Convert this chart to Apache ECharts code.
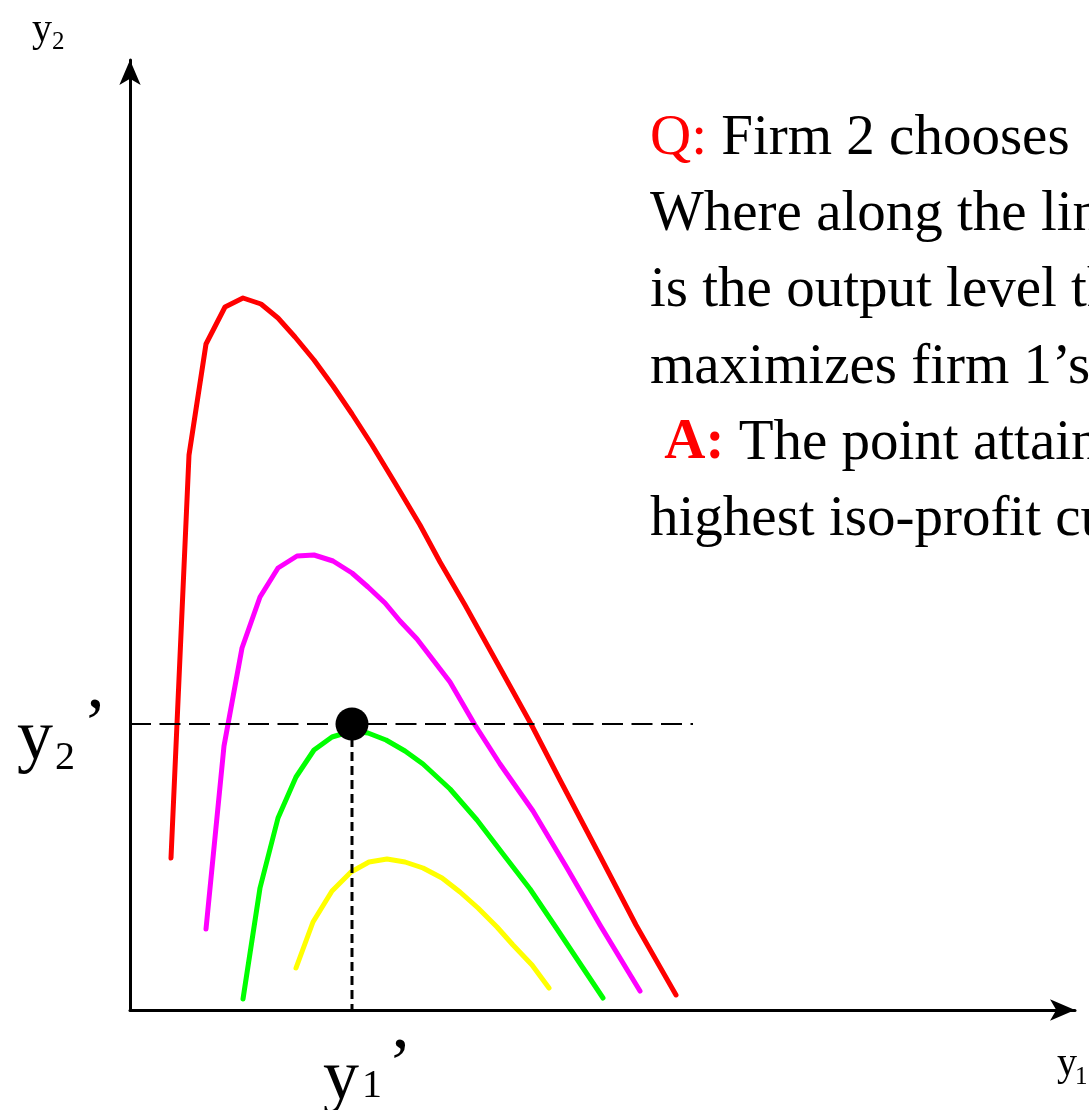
<!DOCTYPE html>
<html>
<head>
<meta charset="utf-8">
<script src="https://cdn.jsdelivr.net/npm/echarts@6/dist/echarts.min.js"></script>
<style>
  html, body { margin: 0; padding: 0; background: #ffffff; }
  #chart { width: 1089px; height: 1110px; }
</style>
</head>
<body>
<div id="chart"></div>
<script>
// Firm 1's iso-profit curves in (y1, y2) output space.
// Each curve is a list of [y1, y2] points; higher curves mean lower profit.
const redCurve = [
  [4.1, 15.2], [5.9, 55.5], [7.6, 66.6], [9.5, 70.3], [11.3, 71.2], [13.1, 70.6],
  [14.8, 69.2], [16.5, 67.3], [18.4, 65.0], [20.3, 62.4], [22.2, 59.6], [24.2, 56.5],
  [26.5, 52.7], [29.0, 48.5], [31.0, 44.8], [33.5, 40.5], [37.0, 34.2], [40.1, 28.6],
  [43.0, 23.0], [47.0, 15.4], [50.6, 8.5], [54.6, 1.5]
];
const magentaCurve = [
  [7.6, 8.1], [9.4, 26.4], [11.2, 36.2], [13.0, 41.3], [14.8, 44.2], [16.7, 45.4],
  [18.4, 45.5], [20.3, 44.9], [22.2, 43.7], [23.8, 42.3], [25.5, 40.7], [27.0, 38.9],
  [28.7, 37.1], [32.0, 32.8], [34.5, 28.5], [37.0, 24.6], [40.3, 19.9], [43.7, 14.2],
  [47.0, 8.5], [51.0, 1.9]
];
const greenCurve = [
  [11.3, 1.1], [13.0, 12.2], [14.8, 19.2], [16.6, 23.3], [18.4, 26.0], [20.2, 27.3],
  [22.2, 27.9], [23.8, 27.7], [25.6, 27.0], [27.5, 25.9], [29.3, 24.6], [32.0, 22.1],
  [34.7, 19.0], [37.3, 15.6], [40.0, 12.1], [42.7, 8.1], [45.3, 4.2], [47.3, 1.2]
];
const yellowCurve = [
  [16.6, 4.2], [18.3, 8.8], [20.2, 11.9], [22.1, 13.8], [23.9, 14.8], [25.7, 15.1],
  [27.5, 14.8], [29.3, 14.2], [31.2, 13.2], [33.0, 11.8], [34.8, 10.2], [36.7, 8.3],
  [38.3, 6.5], [40.2, 4.5], [41.9, 2.2]
];

// Firm 2's choice y2' and firm 1's best response y1'
const bestResponse = [22.2, 28.6];
const guideLineEndY1 = 56.3;

// Axis extents
const y1Max = 94.5;
const y2Max = 95;

// Text
const axisNames = { x: ['y', '1'], y: ['y', '2'] };
const pointNames = { x: ['y', '1', '\u2019'], y: ['y', '2', '\u2019'] };
const noteLines = [
  '{q|Q:} Firm 2 chooses',
  'Where along the line',
  'is the output level that',
  'maximizes firm 1\u2019s',
  ' {a|A:} The point attaining',
  'highest iso-profit curve'
];

const SERIF = '"Liberation Serif", "DejaVu Serif", "Times New Roman", serif';

const chart = echarts.init(document.getElementById('chart'), null, { renderer: 'canvas' });

function curve(data, color) {
  return {
    type: 'line',
    data: data,
    showSymbol: false,
    symbol: 'none',
    smooth: false,
    silent: true,
    lineStyle: { color: color, width: 5, cap: 'round', join: 'round' },
    z: 2
  };
}

chart.setOption({
  animation: false,
  backgroundColor: '#ffffff',
  grid: { left: 130, top: 60, right: 14, bottom: 100, containLabel: false },
  xAxis: {
    type: 'value', min: 0, max: y1Max,
    axisLine: {
      show: true, symbol: ['none', 'arrow'], symbolSize: [16, 25],
      lineStyle: { color: '#000', width: 3 }
    },
    axisTick: { show: false }, axisLabel: { show: false }, splitLine: { show: false }
  },
  yAxis: {
    type: 'value', min: 0, max: y2Max,
    axisLine: {
      show: true, symbol: ['none', 'arrow'], symbolSize: [16, 25],
      lineStyle: { color: '#000', width: 3 }
    },
    axisTick: { show: false }, axisLabel: { show: false }, splitLine: { show: false }
  },
  series: [
    curve(redCurve, '#ff0000'),
    curve(magentaCurve, '#ff00ff'),
    curve(greenCurve, '#00ff00'),
    curve(yellowCurve, '#ffff00'),
    {
      // horizontal guide at y2'
      type: 'line', symbol: 'none', silent: true,
      data: [[0, bestResponse[1]], [guideLineEndY1, bestResponse[1]]],
      lineStyle: { color: '#000', width: 2, type: [21, 8.5] }, z: 3
    },
    {
      // vertical guide down to y1'
      type: 'line', symbol: 'none', silent: true,
      data: [[bestResponse[0], bestResponse[1]], [bestResponse[0], 0]],
      lineStyle: { color: '#000', width: 3, type: [9, 5] }, z: 3
    },
    {
      type: 'scatter', silent: true,
      data: [bestResponse],
      symbol: 'circle', symbolSize: 33,
      itemStyle: { color: '#000', opacity: 1 }, z: 4
    }
  ]
});

// Text placed by its left edge and (approximate) baseline
function txt(str, left, baseline, size, extra) {
  const style = Object.assign({
    text: str, x: 0, y: 0,
    fontFamily: SERIF, fontSize: size, fill: '#000',
    align: 'left', verticalAlign: 'middle'
  }, extra || {});
  return { type: 'text', x: left, y: baseline - 0.32 * size, style: style, silent: true, z: 10 };
}

const pt = chart.convertToPixel({ gridIndex: 0 }, bestResponse);
const origin = chart.convertToPixel({ gridIndex: 0 }, [0, 0]);
const xEnd = chart.convertToPixel({ gridIndex: 0 }, [y1Max, 0]);
const yEnd = chart.convertToPixel({ gridIndex: 0 }, [0, y2Max]);

const graphics = [];

// axis names
graphics.push(txt(axisNames.y[0], yEnd[0] - 98, 43, 40));
graphics.push(txt(axisNames.y[1], yEnd[0] - 78, 50, 25));
graphics.push(txt(axisNames.x[0], xEnd[0] - 18, 1077, 40));
graphics.push(txt(axisNames.x[1], xEnd[0], 1085, 25));

// y2' beside the vertical axis
graphics.push(txt(pointNames.y[0], origin[0] - 113, pt[1] + 39, 72));
graphics.push(txt(pointNames.y[1], origin[0] - 75, pt[1] + 47, 40));
graphics.push(txt(pointNames.y[2], origin[0] - 47, pt[1] + 27, 72));

// y1' under the horizontal axis
graphics.push(txt(pointNames.x[0], pt[0] - 29, origin[1] + 93, 72));
graphics.push(txt(pointNames.x[1], pt[0] + 10, origin[1] + 89, 40));
graphics.push(txt(pointNames.x[2], pt[0] + 36, origin[1] + 81, 72));

// question and answer note
const noteBaselines = [157, 233, 309, 386, 462, 538];
noteLines.forEach(function (line, i) {
  graphics.push({
    type: 'text', x: 650, y: noteBaselines[i] - 0.32 * 57, silent: true, z: 10,
    style: {
      text: line, fontFamily: SERIF, fontSize: 57, fill: '#000',
      align: 'left', verticalAlign: 'middle',
      rich: {
        q: { fontFamily: SERIF, fontSize: 57, fill: '#ff0000' },
        a: { fontFamily: SERIF, fontSize: 57, fontWeight: 'bold', fill: '#ff0000' }
      }
    }
  });
});

chart.setOption({ graphic: graphics });
</script>
</body>
</html>
